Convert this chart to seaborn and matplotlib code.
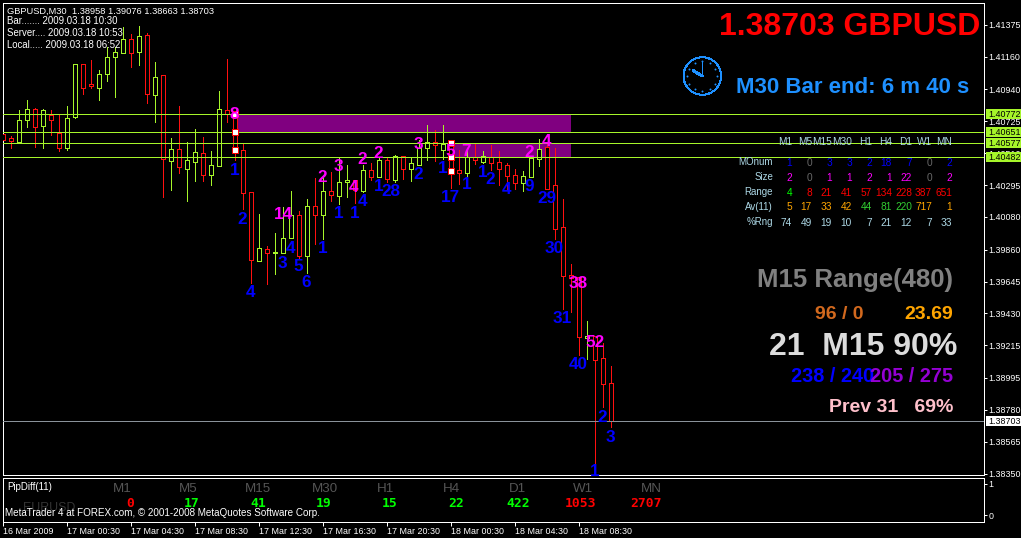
import matplotlib
matplotlib.use('Agg')
import matplotlib.pyplot as plt
from matplotlib.patches import Circle, Rectangle
from matplotlib.transforms import blended_transform_factory
import seaborn as sns
import pandas as pd
import numpy as np

opens = [1.40638, 1.40613, 1.40588, 1.40732, 1.40806, 1.40696, 1.40766, 1.40645, 1.40548, 1.40752,
         1.41110, 1.40975, 1.40952, 1.41046, 1.41161, 1.41188, 1.41278, 1.41195, 1.41305, 1.40905,
         1.41035, 1.40460, 1.40537, 1.40406, 1.40453, 1.40510, 1.40366, 1.40426, 1.40800, 1.40775,
         1.40530, 1.40251, 1.39786, 1.39863, 1.39836, 1.39836, 1.39937, 1.40092, 1.39816, 1.40153,
         1.40092, 1.40254, 1.40224, 1.40314, 1.40328, 1.40258, 1.40395, 1.40352, 1.40463, 1.40332,
         1.40490, 1.40406, 1.40433, 1.40548, 1.40584, 1.40532, 1.40577, 1.40395, 1.40379, 1.40487,
         1.40453, 1.40487, 1.40449, 1.40429, 1.40362, 1.40312, 1.40352, 1.40469, 1.40550, 1.40294,
         1.40011, 1.39687, 1.39674, 1.39267, 1.39278, 1.39128, 1.38958]
highs = [1.40842, 1.40626, 1.40802, 1.40869, 1.40813, 1.40805, 1.40802, 1.40768, 1.40827, 1.41112,
         1.41110, 1.41139, 1.41071, 1.41228, 1.41226, 1.41359, 1.41314, 1.41368, 1.41319, 1.41125,
         1.41035, 1.40611, 1.40829, 1.40584, 1.40672, 1.40620, 1.40525, 1.40930, 1.41143, 1.40779,
         1.40572, 1.40251, 1.40101, 1.39885, 1.39973, 1.40146, 1.40254, 1.40119, 1.40200, 1.40341,
         1.40343, 1.40384, 1.40476, 1.40431, 1.40330, 1.40431, 1.40444, 1.40487, 1.40476, 1.40498,
         1.40492, 1.40476, 1.40599, 1.40700, 1.40667, 1.40700, 1.40579, 1.40532, 1.40532, 1.40572,
         1.40525, 1.40566, 1.40525, 1.40442, 1.40404, 1.40390, 1.40487, 1.40606, 1.40586, 1.40543,
         1.40200, 1.39764, 1.39674, 1.39379, 1.39278, 1.39229, 1.39076]
lows = [1.40532, 1.40548, 1.40588, 1.40689, 1.40554, 1.40548, 1.40635, 1.40527, 1.40534, 1.40746,
        1.40911, 1.40952, 1.40871, 1.40999, 1.40891, 1.41184, 1.41093, 1.41107, 1.40851, 1.40723,
        1.40217, 1.40262, 1.40379, 1.40190, 1.40325, 1.40325, 1.40298, 1.40426, 1.40723, 1.40465,
        1.40132, 1.39638, 1.39786, 1.39631, 1.39698, 1.39836, 1.39937, 1.39806, 1.39705, 1.39900,
        1.39934, 1.40190, 1.40168, 1.40215, 1.40173, 1.40251, 1.40330, 1.40352, 1.40318, 1.40318,
        1.40339, 1.40323, 1.40433, 1.40465, 1.40458, 1.40471, 1.40278, 1.40303, 1.40316, 1.40438,
        1.40446, 1.40397, 1.40296, 1.40269, 1.40269, 1.40256, 1.40352, 1.40424, 1.40269, 1.39932,
        1.39460, 1.39438, 1.39150, 1.39123, 1.38424, 1.38802, 1.38663]
closes = [1.40599, 1.40591, 1.40734, 1.40806, 1.40689, 1.40800, 1.40732, 1.40548, 1.40746, 1.41110,
          1.40952, 1.40965, 1.41042, 1.41157, 1.41190, 1.41278, 1.41184, 1.41298, 1.40907, 1.41022,
          1.40469, 1.40537, 1.40419, 1.40463, 1.40517, 1.40366, 1.40429, 1.40806, 1.40773, 1.40517,
          1.40240, 1.39789, 1.39869, 1.39836, 1.39842, 1.39937, 1.40092, 1.39820, 1.40153, 1.40092,
          1.40254, 1.40227, 1.40314, 1.40328, 1.40262, 1.40395, 1.40352, 1.40463, 1.40339, 1.40490,
          1.40406, 1.40442, 1.40545, 1.40584, 1.40564, 1.40572, 1.40388, 1.40379, 1.40487, 1.40467,
          1.40490, 1.40446, 1.40406, 1.40359, 1.40312, 1.40355, 1.40476, 1.40537, 1.40271, 1.40002,
          1.39685, 1.39671, 1.39274, 1.39278, 1.39119, 1.38957, 1.38703]

price_ticks = [1.41375, 1.41160, 1.40940, 1.40725, 1.40510, 1.40295, 1.40080, 1.39860,
               1.39645, 1.39430, 1.39215, 1.38995, 1.38780, 1.38565, 1.38350]
time_ticks = [0, 8, 16, 24, 32, 40, 48, 56, 64, 72]
time_labels = ['16 Mar 2009', '17 Mar 00:30', '17 Mar 04:30', '17 Mar 08:30', '17 Mar 12:30',
               '17 Mar 16:30', '17 Mar 20:30', '18 Mar 00:30', '18 Mar 04:30', '18 Mar 08:30']

levels = [1.40772, 1.40651, 1.40577, 1.40482]
last_price = 1.38703

# bar index, price, text of the counters along the swings
blue_bars = [28.9, 29.9, 30.9, 34.9, 35.9, 36.9, 37.9, 39.9, 41.9, 43.9, 44.9, 46.9, 48.4, 51.9, 54.9, 55.9,
             57.9, 59.9, 60.9, 62.9, 65.75, 68, 68.9, 69.9, 71.9, 74.9, 75.9, 73.9]
blue_prices = [1.40404, 1.40074, 1.39582, 1.39777, 1.39878, 1.39757, 1.39649, 1.39878, 1.40114, 1.40114,
               1.40195, 1.40296, 1.40262, 1.40377, 1.40417, 1.40222, 1.40310, 1.40390, 1.40343, 1.40276,
               1.40296, 1.40215, 1.39878, 1.39406, 1.39096, 1.38739, 1.38604, 1.38375]
blue_text = ['1', '2', '4', '3', '4', '5', '6', '1', '1', '1', '4', '1', '28', '2', '1', '17', '1', '1',
             '2', '4', '9', '29', '30', '31', '40', '2', '3', '1']
pink_bars = [28.9, 35, 39.9, 41.9, 43.75, 44.9, 46.9, 51.9, 55.9, 57.9, 65.75, 67.9, 71.9, 73.9]
pink_prices = [1.40781, 1.40107, 1.40357, 1.40431, 1.40289, 1.40478, 1.40519, 1.40579, 1.40532, 1.40532,
               1.40525, 1.40599, 1.39642, 1.39245]
pink_text = ['8', '14', '2', '3', '4', '2', '2', '3', '5', '7', '2', '4', '38', '52']

columns = ['M1', 'M5', 'M15', 'M30', 'H1', 'H4', 'D1', 'W1', 'MN']
mo_num = [1, 0, 3, 3, 2, 18, 7, 0, 2]
size_row = [2, 0, 1, 1, 2, 1, 22, 0, 2]
range_row = [4, 8, 21, 41, 57, 134, 228, 387, 651]
avg_row = [5, 17, 33, 42, 44, 81, 220, 717, 1]
avg_colors = ['orange', 'orange', 'orange', 'orange', '#32cd32', '#32cd32', '#32cd32', 'orange', 'orange']
pct_row = [74, 49, 19, 10, 7, 21, 12, 7, 33]
pip_diff = [0, 17, 41, 19, 15, 22, 422, 1053, 2707]
pip_colors = ['red', 'lime', 'lime', 'lime', 'lime', 'lime', 'lime', 'red', 'red']

W, H = 1021, 538
GREEN = '#a6f52a'
RED = '#ff1010'
FONT = 'Liberation Sans'
PX = 0.72  # one screen pixel in points

sns.set_theme(style='dark', rc={
    'figure.facecolor': 'black', 'axes.facecolor': 'black', 'axes.edgecolor': 'white',
    'savefig.facecolor': 'black', 'text.color': 'white', 'xtick.color': 'white', 'ytick.color': 'white',
    'axes.linewidth': PX, 'lines.antialiased': False, 'patch.antialiased': False,
    'xtick.bottom': True, 'ytick.right': True, 'ytick.left': False,
})
plt.rcParams['font.family'] = [FONT, 'DejaVu Sans']


def box(x0, y0, x1, y1):
    return [x0 / W, 1 - y1 / H, (x1 - x0) / W, (y1 - y0) / H]


fig = plt.figure(figsize=(W / 100, H / 100), dpi=100)
ax = fig.add_axes(box(2.5, 2.5, 983.5, 475))
ax.set_xlim(-0.06, 122.5)
ax.set_ylim(1.38703 - 53.7 * 6.74e-5, 1.38703 + 418.8 * 6.74e-5)

df = pd.DataFrame({'bar': np.arange(len(opens)), 'open': opens, 'high': highs, 'low': lows, 'close': closes})
df['side'] = np.where(df['close'] >= df['open'], 'up', 'down')

# zones go under the candles
ax.fill_between([29, 71], levels[1], levels[0], color='#800080', lw=0, zorder=1)
ax.fill_between([56.2, 71], levels[3], levels[2], color='#800080', lw=0, zorder=1)

# wicks, one short line per bar
wicks = df.melt(id_vars=['bar', 'side'], value_vars=['high', 'low'], value_name='price')
sns.lineplot(data=wicks, x='bar', y='price', units='bar', estimator=None, hue='side',
             palette={'up': GREEN, 'down': RED}, lw=PX, legend=False, ax=ax, zorder=2)
ax.bar(df['bar'], (df['close'] - df['open']).abs(), bottom=df[['open', 'close']].min(axis=1), width=0.5,
       facecolor='black', edgecolor=[GREEN if s == 'up' else RED for s in df['side']], linewidth=PX, zorder=3)

for lv in levels:
    ax.axhline(lv, color=GREEN, lw=PX, zorder=5)
ax.axhline(last_price, color='#8a929a', lw=PX, zorder=5)

# zone corner squares
ax.scatter([29, 29, 29, 56, 56, 56], [1.40772, 1.40651, 1.40530, 1.40577, 1.40482, 1.40388], marker='s', s=13,
           color='white', edgecolor='red', linewidth=PX, zorder=6)

# counters: the prices were read at the middle of the digits
for b, p, t in zip(blue_bars, blue_prices, blue_text):
    ax.text(b, p - 4.1e-4, t, color='#0000ff', fontsize=12.3, fontweight='bold', ha='center', va='baseline', zorder=7)
for b, p, t in zip(pink_bars, pink_prices, pink_text):
    ax.text(b, p - 4.1e-4, t, color='#ff00ff', fontsize=12.3, fontweight='bold', ha='center', va='baseline', zorder=7)

ax.set_xlabel('')
ax.set_ylabel('')
ax.yaxis.tick_right()
ax.set_yticks(price_ticks, [f'{t:.5f}' for t in price_ticks], fontsize=6.4)
ax.tick_params(axis='y', length=2.2, width=PX, pad=1.5, colors='white')
ax.set_xticks([])

# price tags on the right scale
tag = blended_transform_factory(ax.transAxes, ax.transData)
for lv, fc in zip(levels + [last_price], [GREEN] * 4 + ['white']):
    ax.add_patch(Rectangle((1.0026, lv - 5 * 6.74e-5), 0.0365, 10 * 6.74e-5, transform=tag, fc=fc, ec='none',
                           clip_on=False, zorder=8))
    ax.annotate(f'{lv:.5f}', (1, lv), xycoords=tag, xytext=(3.8, 0), textcoords='offset points',
                fontsize=6.4, color='black', va='center', ha='left', annotation_clip=False, zorder=9)

# indicator panel
low_ax = fig.add_axes(box(2.5, 477.5, 983.5, 521.5))
low_ax.set_xlim(-0.06, 122.5)
low_ax.set_ylim(-0.2, 1.2)
low_ax.yaxis.tick_right()
low_ax.set_yticks([0, 1], ['0', '1'], fontsize=6.4)
low_ax.tick_params(axis='y', length=2.2, width=PX, pad=1.5)
low_ax.set_xticks(time_ticks, time_labels, fontsize=6.4, ha='left')
low_ax.tick_params(axis='x', length=2.9, width=PX, pad=1)

# free text is placed in screen pixels on a full-figure layer
ov = fig.add_axes([0, 0, 1, 1], facecolor='none')
ov.set_xlim(0, W)
ov.set_ylim(H, 0)
ov.axis('off')


def put(x, y, s, color='white', size=7, weight='normal', ha='left', family=None):
    # y is the middle of the capitals, so go through the baseline
    ov.text(x, y + 0.358 * size * 100 / 72, s, color=color, fontsize=size, fontweight=weight, ha=ha, va='baseline',
            family=family if family else [FONT, 'DejaVu Sans'])


put(7, 10, 'GBPUSD,M30  1.38958 1.39076 1.38663 1.38703', size=6.7)
put(7, 21, 'Bar....... 2009.03.18 10:30', size=6.9)
put(7, 33, 'Server.... 2009.03.18 10:53', size=6.9)
put(7, 45, 'Local..... 2009.03.18 06:52', size=6.9)

put(980, 23.3, '1.38703 GBPUSD', color='#ff0000', size=23, weight='bold', ha='right')
put(969, 85, 'M30 Bar end: 6 m 40 s', color='#1e90ff', size=16, weight='bold', ha='right')

# clock face
ov.add_patch(Circle((702.3, 76), 18.8, fill=False, ec='#1e90ff', lw=PX))
ang = np.deg2rad(np.arange(0, 360, 30))
ov.scatter(702.3 + 15 * np.cos(ang), 76 + 15 * np.sin(ang), s=2, color='#1e90ff', lw=0)
ov.plot([702.3, 702.3], [76, 60.7], color='#1e90ff', lw=PX)
ov.plot([702.3, 693.3], [76, 70.7], color='#1e90ff', lw=2 * PX)

for k, c in enumerate(columns):
    x = 792 + 20 * k
    put(x, 141, c, color='#add8e6', size=7.3, ha='right')
    put(x, 162, str(mo_num[k]), color='#0000ff' if mo_num[k] else '#696969', size=7.3, ha='right')
    put(x, 177, str(size_row[k]), color='#ff00ff' if size_row[k] else '#696969', size=7.3, ha='right')
    put(x, 192, str(range_row[k]), color='lime' if k == 0 else 'red', size=7.3, ha='right')
    put(x, 206.5, str(avg_row[k]), color=avg_colors[k], size=7.3, ha='right')
    put(x, 222, str(pct_row[k]), color='#add8e6', size=7.3, ha='right')
for y, s in zip([162, 177, 192, 206.5, 222], ['MOnum', 'Size', 'Range', 'Av(11)', '%Rng']):
    put(773, y, s, color='#add8e6', size=7, ha='right')

put(953, 278, 'M15 Range(480)', color='#808080', size=18.5, weight='bold', ha='right')
put(863, 312, '96 / 0', color='#d2691e', size=14, weight='bold', ha='right')
put(953, 312, '23.69', color='orange', size=14, weight='bold', ha='right')
put(957, 344, '21  M15 90%', color='#dcdcdc', size=23, weight='bold', ha='right')
put(874, 375, '238 / 240', color='#0000ff', size=14.3, weight='bold', ha='right')
put(953, 375, '205 / 275', color='#9400d3', size=14.3, weight='bold', ha='right')
put(953, 405, 'Prev 31   69%', color='#ffc0cb', size=14, weight='bold', ha='right')

put(7, 487, 'PipDiff(11)', size=7)
for x, c in zip([122, 188, 258, 324.5, 385, 451, 517, 583, 651], columns):
    put(x, 487, c, color='#555555', size=9.6, ha='center')
for x, v, col in zip([130, 192, 258, 323.6, 390, 456, 518, 580, 646], pip_diff, pip_colors):
    put(x, 502.5, str(v), color=col, size=9.4, weight='bold', ha='center', family='DejaVu Sans Mono')
put(49, 506.5, 'EURUSD', color='#333333', size=8.9, ha='center')
put(5, 512.7, 'MetaTrader 4 at FOREX.com, © 2001-2008 MetaQuotes Software Corp.', size=7.1)

fig.savefig('out.png', dpi=100)
